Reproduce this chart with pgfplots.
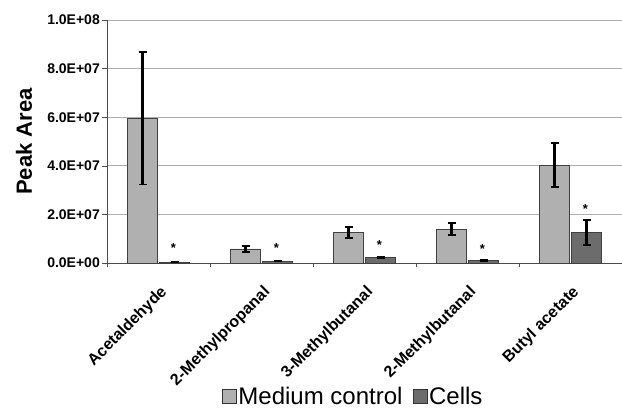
\documentclass[border=0pt]{standalone}
\usepackage{pgfplots}
\pgfplotsset{compat=1.18}
\usepackage{fontspec}
\setmainfont{Liberation Sans}
\definecolor{medc}{RGB}{176,176,176}
\definecolor{cellc}{RGB}{108,108,108}
\definecolor{gridc}{RGB}{175,175,175}
\begin{document}
\begin{tikzpicture}[x=1bp,y=1bp]
\path[use as bounding box] (0,0) rectangle (622,409);
\begin{axis}[
  at={(107bp,146bp)}, anchor=south west,
  scale only axis, width=515bp, height=243bp,
  ybar, bar width=30bp,
  xmin=-0.5, xmax=4.5, ymin=0, ymax=1e8,
  axis lines*=left,
  axis line style={draw=black!70, line width=0.6bp},
  xtick={0,1,2,3,4},
  xticklabels={Acetaldehyde,2-Methylpropanal,3-Methylbutanal,2-Methylbutanal,Butyl acetate},
  major x tick style={draw=none},
  minor xtick={-0.5,0.5,1.5,2.5,3.5,4.5},
  minor x tick style={draw=black!70, line width=0.5bp},
  minor tick length=4bp,
  xtick align=outside,
  x tick label style={rotate=45, anchor=north east, font=\bfseries\fontsize{16bp}{18bp}\selectfont, inner sep=0bp, yshift=-12bp, xshift=-11bp},
  ytick={0,2e7,4e7,6e7,8e7,1e8},
  yticklabels={0.0E+00,2.0E+07,4.0E+07,6.0E+07,8.0E+07,1.0E+08},
  scaled y ticks=false,
  ytick align=outside, major tick length=5bp,
  y tick style={draw=black!70, line width=0.5bp},
  y tick label style={font=\bfseries\fontsize{14bp}{16bp}\selectfont, inner sep=2bp},
  ymajorgrids, grid style={draw=gridc, line width=0.8bp},
  ylabel={Peak Area},
  every axis y label/.style={at={(axis description cs:0,0.5)}, xshift=-83bp, rotate=90, anchor=center, font=\bfseries\fontsize{22bp}{26bp}\selectfont},
  legend columns=2,
  legend style={at={(axis description cs:0.478,-0.55)}, anchor=center, draw=none, fill=none, font=\fontsize{24bp}{26bp}\selectfont, inner sep=1bp, /tikz/every even column/.append style={column sep=8bp}},
  legend image code/.code={\draw[#1, draw=black!80, line width=0.6bp] (0bp,-7bp) rectangle (14bp,7bp);},
  error bars/y dir=both, error bars/y explicit,
  error bars/error mark options={rotate=90, mark size=4bp, line width=1.8bp, black},
]
\addplot[fill=medc, draw=black!75, line width=0.6bp, error bars/error bar style={black, line width=2.2bp}] coordinates {
  (0,5.95e7) +- (0,2.72e7)
  (1,5.8e6) +- (0,1.3e6)
  (2,1.25e7) +- (0,2.2e6)
  (3,1.39e7) +- (0,2.4e6)
  (4,4.03e7) +- (0,9.0e6)
};
\addplot[fill=cellc, draw=black!75, line width=0.6bp, error bars/error bar style={black, line width=2.2bp}] coordinates {
  (0,3.0e5) +- (0,1.0e5)
  (1,8.0e5) +- (0,2.0e5)
  (2,2.2e6) +- (0,2.0e5)
  (3,1.1e6) +- (0,2.0e5)
  (4,1.26e7) +- (0,5.2e6)
};
\legend{Medium control, Cells}
\begin{scope}[every node/.style={font=\bfseries\fontsize{13bp}{14bp}\selectfont, inner sep=0pt}]
\node at (axis cs:0,0.60e7) [xshift=15bp] {*};
\node at (axis cs:1,0.60e7) [xshift=15bp] {*};
\node at (axis cs:2,0.75e7) [xshift=15bp] {*};
\node at (axis cs:3,0.57e7) [xshift=15bp] {*};
\node at (axis cs:4,2.22e7) [xshift=15bp] {*};
\end{scope}
\end{axis}
\end{tikzpicture}
\end{document}
